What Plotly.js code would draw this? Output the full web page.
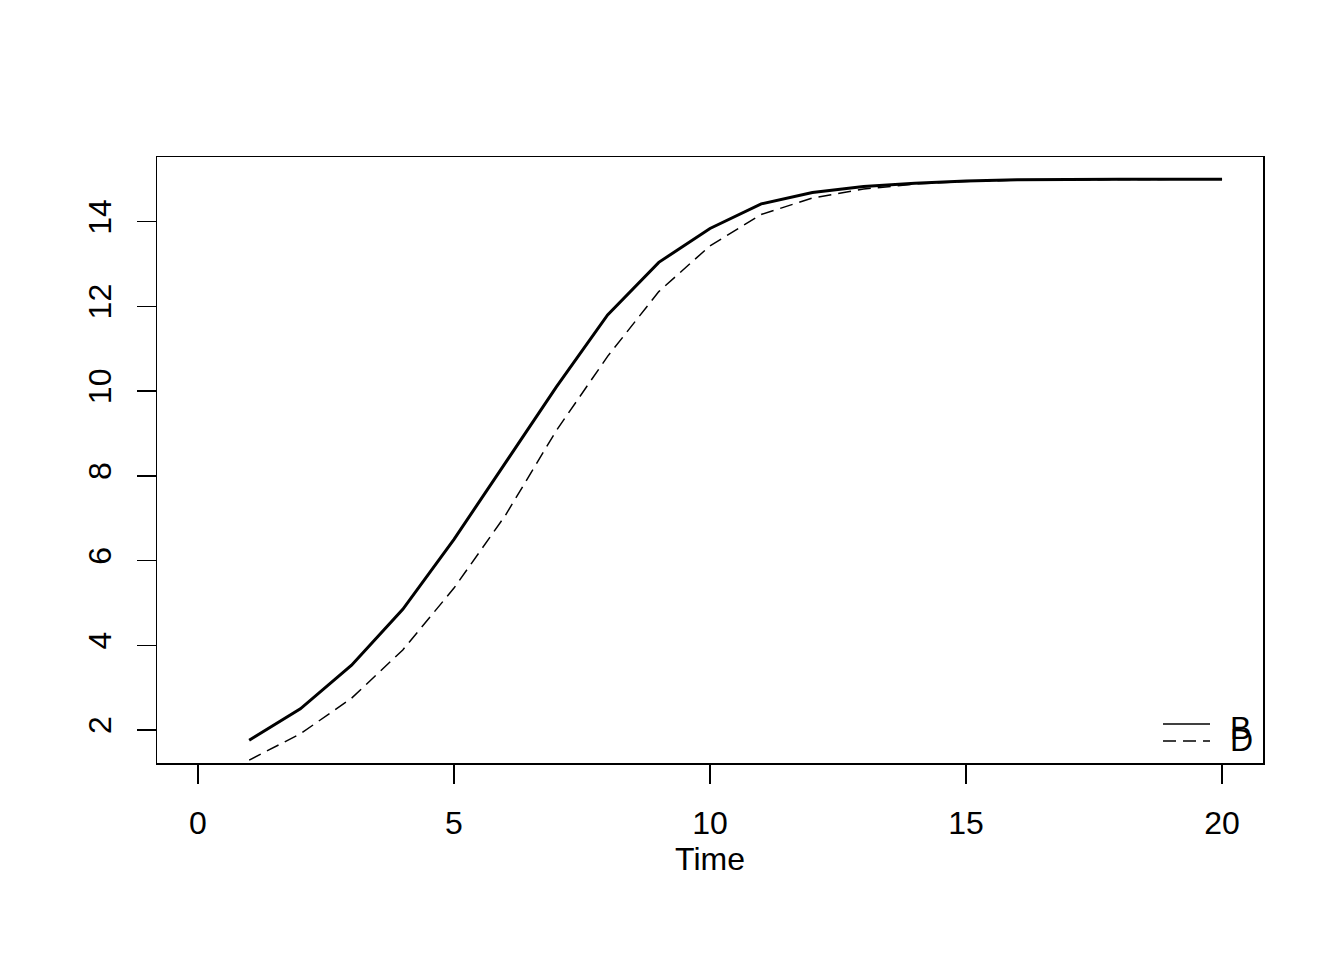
<!DOCTYPE html>
<html>
<head>
<meta charset="utf-8">
<script src="https://cdn.plot.ly/plotly-3.0.1.min.js"></script>
<style>
html,body{margin:0;padding:0;background:#fff;}
#chart{width:1344px;height:960px;}
</style>
</head>
<body>
<div id="chart"></div>
<script>
const time = [1,2,3,4,5,6,7,8,9,10,11,12,13,14,15,16,17,18,19,20];
const seriesB = [1.76,2.50,3.53,4.85,6.50,8.30,10.10,11.80,13.04,13.84,14.42,14.69,14.83,14.91,14.96,14.99,15.00,15.00,15.00,15.00];
const seriesD = [1.29,1.91,2.75,3.89,5.35,7.06,9.07,10.82,12.35,13.43,14.17,14.56,14.77,14.89,14.95,14.98,14.99,15.00,15.00,15.00];
const legendLabels = ["B","D"];
const xTicks = [0,5,10,15,20];
const yTicks = [2,4,6,8,10,12,14];

const FONT = "Liberation Sans, Arial, sans-serif";

const traces = [
  {x: time, y: seriesB, type: "scatter", mode: "lines", name: legendLabels[0],
   line: {color: "#000", width: 3}, cliponaxis: true},
  {x: time, y: seriesD, type: "scatter", mode: "lines", name: legendLabels[1],
   line: {color: "#000", width: 1.5, dash: "13px,7px"}, cliponaxis: true}
];

const layout = {
  width: 1344, height: 960,
  paper_bgcolor: "#fff", plot_bgcolor: "#fff",
  margin: {l: 157, r: 81, t: 157, b: 197},
  showlegend: false,
  font: {family: FONT, size: 32, color: "#000"},
  xaxis: {
    range: [-0.8, 20.8], tickvals: xTicks, ticktext: xTicks.map(String),
    showgrid: false, zeroline: false, showline: true, mirror: true,
    linecolor: "#000", linewidth: 1.5,
    ticks: "outside", ticklen: 19, tickwidth: 1.5, tickcolor: "#000",
    ticklabelstandoff: 12,
    tickfont: {family: FONT, size: 32, color: "#000"},
    title: {text: "Time", font: {family: FONT, size: 32, color: "#000"}, standoff: 6}
  },
  yaxis: {
    range: [1.221, 15.527], tickvals: yTicks, ticktext: yTicks.map(String),
    showgrid: false, zeroline: false, showline: true, mirror: true,
    linecolor: "#000", linewidth: 1.5,
    ticks: "outside", ticklen: 19, tickwidth: 1.5, tickcolor: "#000",
    tickangle: -90, ticklabelstandoff: 13,
    tickfont: {family: FONT, size: 32, color: "#000"}
  },
  shapes: [
    {type: "line", xref: "paper", yref: "paper", x0: 0.9096, x1: 0.9521, y0: 0.0644, y1: 0.0644,
     line: {color: "#000", width: 1.5}},
    {type: "line", xref: "paper", yref: "paper", x0: 0.9096, x1: 0.9521, y0: 0.0363, y1: 0.0363,
     line: {color: "#000", width: 1.5, dash: "13px,7px"}}
  ],
  annotations: [
    {xref: "paper", yref: "paper", x: 0.9685, y: 0.058, xanchor: "left", yanchor: "middle",
     text: legendLabels[0], showarrow: false, font: {family: FONT, size: 32, color: "#000"}},
    {xref: "paper", yref: "paper", x: 0.9685, y: 0.038, xanchor: "left", yanchor: "middle",
     text: legendLabels[1], showarrow: false, font: {family: FONT, size: 32, color: "#000"}}
  ]
};

Plotly.newPlot("chart", traces, layout, {displayModeBar: false, staticPlot: true});
</script>
</body>
</html>
